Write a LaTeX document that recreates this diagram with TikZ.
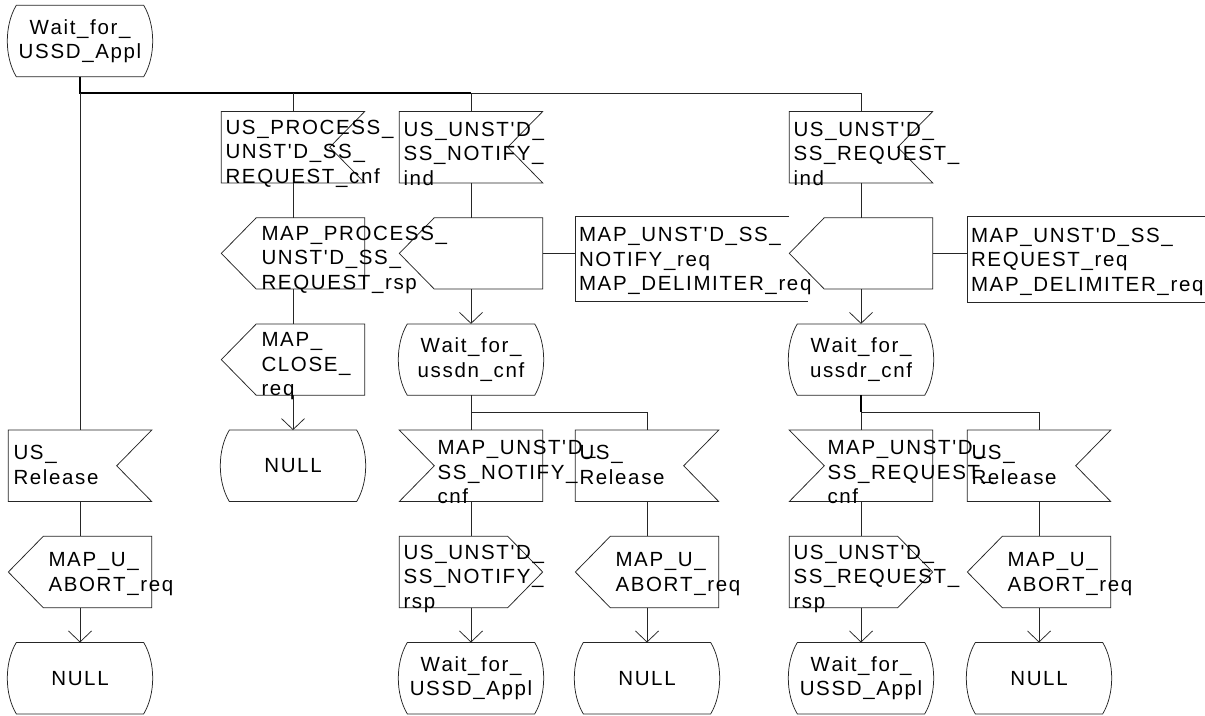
\documentclass[tikz,border=0pt]{standalone}
\usepackage{fontspec}
\setmainfont{Liberation Sans}[LetterSpace=8,Kerning=Off,Ligatures=TeXOff]
\usetikzlibrary{positioning,arrows.meta}

\begin{document}
\begin{tikzpicture}[x=1pt,y=-1pt,node distance=106.2pt,on grid,
    font=\fontsize{20.5}{24.5}\selectfont,
    line/.style={draw=black!85,line width=0.75pt},
    bold/.style={draw=black,line width=1.4pt},
    flow/.style={line,-{Straight Barb[length=11pt,width=23pt]}},
    state/.style={minimum width=145pt,minimum height=71pt,inner sep=0pt,align=center},
    sig/.style={minimum width=143pt,minimum height=71pt,inner sep=0pt},
    txt/.style={anchor=west,align=left,inner sep=0pt,yshift=-2pt},
    txt3/.style={txt,yshift=-4.5pt},
    txtrel/.style={txt,yshift=3pt}]
    \fill[white] (0,0) rectangle (1205,715);
    \useasboundingbox (0,0) rectangle (1205,715);

    \node[state] (s0) at (80,41) {Wait\_for\_\\USSD\_Appl};
    \coordinate (bus) at (80,93);

    % column A
    \node[sig] (relA) at (80,465.8) {};
    \node[sig] (abortA) [below=of relA] {};
    \node[state] (nullA) [below=of abortA] {NULL};

    % column B
    \node[sig] (inB) at (293,147.2) {};
    \node[sig] (outB) [below=of inB] {};
    \node[sig] (closeB) [below=of outB] {};
    \node[state] (nullB) [below=of closeB] {NULL};

    % column C
    \node[sig] (inC) at (471,147.2) {};
    \node[sig] (outC) [below=of inC] {};
    \node[state] (waitC) [below=of outC] {Wait\_for\_\\ussdn\_cnf};
    \node[sig] (cnfC) [below=of waitC] {};
    \node[sig] (rspC) [below=of cnfC] {};
    \node[state] (waitC2) [below=of rspC] {Wait\_for\_\\USSD\_Appl};
    \node[minimum width=232pt,minimum height=84pt,inner sep=0pt] (txtC) at (692,259) {};
    \coordinate (brC) at (471,412);

    % column E
    \node[sig] (relE) at (647,465.8) {};
    \node[sig] (abortE) [below=of relE] {};
    \node[state] (nullE) [below=of abortE] {NULL};

    % column D
    \node[sig] (inD) at (861,147.2) {};
    \node[sig] (outD) [below=of inD] {};
    \node[state] (waitD) [below=of outD] {Wait\_for\_\\ussdr\_cnf};
    \node[sig] (cnfD) [below=of waitD] {};
    \node[sig] (rspD) [below=of cnfD] {};
    \node[state] (waitD2) [below=of rspD] {Wait\_for\_\\USSD\_Appl};
    \node[minimum width=237pt,minimum height=85pt,inner sep=0pt] (txtD) at (1086.5,259.5) {};
    \coordinate (brD) at (861,412);

    % column F
    \node[sig] (relF) at (1039,465.8) {};
    \node[sig] (abortF) [below=of relF] {};
    \node[state] (nullF) [below=of abortF] {NULL};

    % symbol outlines
    \foreach \n in {s0,nullA,nullB,waitC,waitC2,nullE,waitD,waitD2,nullF}
        \draw[line] ([xshift=9pt]\n.north west) -- ([xshift=-9pt]\n.north east)
            .. controls ([xshift=3pt,yshift=-20pt]\n.north east) and ([xshift=3pt,yshift=20pt]\n.south east) .. ([xshift=-9pt]\n.south east)
            -- ([xshift=9pt]\n.south west)
            .. controls ([xshift=-3pt,yshift=20pt]\n.south west) and ([xshift=-3pt,yshift=-20pt]\n.north west) .. cycle;
    \foreach \n in {inB,inC,inD,relA,relE,relF}
        \draw[line] (\n.north west) -- (\n.north east) -- ([xshift=-35pt]\n.east) -- (\n.south east) -- (\n.south west) -- cycle;
    \foreach \n in {cnfC,cnfD}
        \draw[line] (\n.north west) -- ([xshift=35pt]\n.west) -- (\n.south west) -- (\n.south east) -- (\n.north east) -- cycle;
    \foreach \n in {outB,closeB,outC,outD,abortA,abortE,abortF}
        \draw[line] ([xshift=35pt]\n.north west) -- (\n.north east) -- (\n.south east) -- ([xshift=35pt]\n.south west) -- (\n.west) -- cycle;
    \foreach \n in {rspC,rspD}
        \draw[line] (\n.north west) -- ([xshift=-35pt]\n.north east) -- (\n.east) -- ([xshift=-35pt]\n.south east) -- (\n.south west) -- cycle;
    \draw[line] ([xshift=-19pt]txtC.north east) -- (txtC.north west) -- (txtC.south west) -- (txtC.south east);
    \draw[line] (txtD.north east) -- (txtD.north west) -- (txtD.south west) -- (txtD.south east);

    % texts
    \node[txtrel] (relA-t) at ([xshift=5pt]relA.west) {US\_\\Release};
    \node[txt] (abortA-t) at ([xshift=40pt]abortA.west) {MAP\_U\_\\ABORT\_req};
    \node[txt3] (inB-t) at ([xshift=4pt]inB.west) {US\_PROCESS\_\\UNST'D\_SS\_\\REQUEST\_cnf};
    \node[txt3] (outB-t) at ([xshift=40pt]outB.west) {MAP\_PROCESS\_\\UNST'D\_SS\_\\REQUEST\_rsp};
    \node[txt3] (closeB-t) at ([xshift=40pt]closeB.west) {MAP\_\\CLOSE\_\\req};
    \node[txt3] (inC-t) at ([xshift=4pt]inC.west) {US\_UNST'D\_\\SS\_NOTIFY\_\\ind};
    \node[txt] (txtC-t) at ([xshift=3pt]txtC.west) {MAP\_UNST'D\_SS\_\\NOTIFY\_req\\MAP\_DELIMITER\_req};
    \node[txt3] (cnfC-t) at ([xshift=38pt]cnfC.west) {MAP\_UNST'D\_\\SS\_NOTIFY\_\\cnf};
    \node[txt3] (rspC-t) at ([xshift=4pt]rspC.west) {US\_UNST'D\_\\SS\_NOTIFY\_\\rsp};
    \node[txtrel] (relE-t) at ([xshift=4pt]relE.west) {US\_\\Release};
    \node[txt] (abortE-t) at ([xshift=40pt]abortE.west) {MAP\_U\_\\ABORT\_req};
    \node[txt3] (inD-t) at ([xshift=4pt]inD.west) {US\_UNST'D\_\\SS\_REQUEST\_\\ind};
    \node[txt] (txtD-t) at ([xshift=3pt]txtD.west) {MAP\_UNST'D\_SS\_\\REQUEST\_req\\MAP\_DELIMITER\_req};
    \node[txt3] (cnfD-t) at ([xshift=38pt]cnfD.west) {MAP\_UNST'D\_\\SS\_REQUEST\_\\cnf};
    \node[txt3] (rspD-t) at ([xshift=4pt]rspD.west) {US\_UNST'D\_\\SS\_REQUEST\_\\rsp};
    \node[txtrel] (relF-t) at ([xshift=4pt]relF.west) {US\_\\Release};
    \node[txt] (abortF-t) at ([xshift=40pt]abortF.west) {MAP\_U\_\\ABORT\_req};

    % connectors
    \draw[bold] (s0) -- (bus) -- (bus -| inC);
    \draw[bold] (waitD) -- (brD);
    \draw[line] (bus -| inC) -| (inD);
    \draw[line] (brC) -| (relE);
    \draw[line] (brD) -| (relF);
    \path[line]
        (bus) edge (relA)
        (bus -| inB) edge (inB)
        (bus -| inC) edge (inC)
        (relA) edge (abortA)
        (inB) edge (outB)
        (outB) edge (closeB)
        (inC) edge (outC)
        (outC.east) edge (outC.east -| txtC.west)
        (waitC) edge (cnfC)
        (cnfC) edge (rspC)
        (relE) edge (abortE)
        (outD.east) edge (outD.east -| txtD.west)
        (inD) edge (outD)
        (brD) edge (cnfD)
        (cnfD) edge (rspD)
        (relF) edge (abortF);
    \path[flow]
        (abortA) edge (nullA)
        (closeB) edge (nullB)
        (outC) edge (waitC)
        (rspC) edge (waitC2)
        (abortE) edge (nullE)
        (outD) edge (waitD)
        (rspD) edge (waitD2)
        (abortF) edge (nullF);
\end{tikzpicture}
\end{document}
